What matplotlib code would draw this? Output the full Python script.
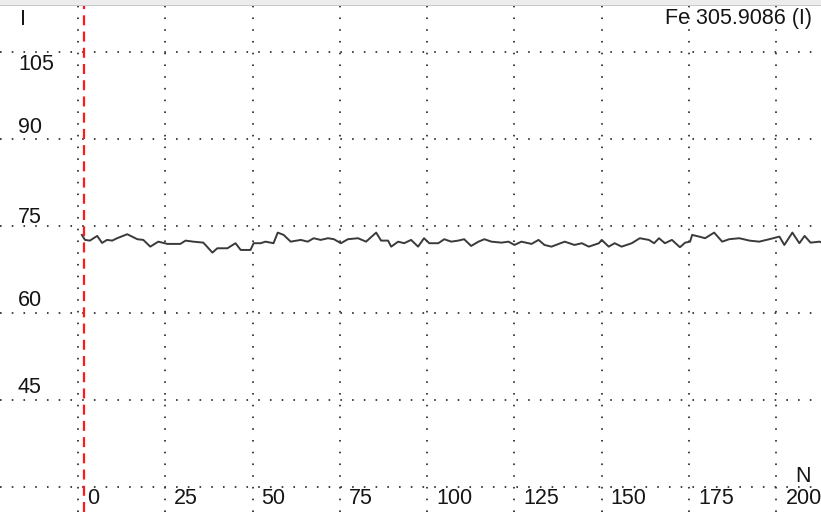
import matplotlib
matplotlib.use("Agg")
import matplotlib.pyplot as plt
from matplotlib.patches import Rectangle

# Fe 305.9086 intensity readings (N, I)
n_values = [1.1, 2.0, 3.4, 5.5, 6.9, 8.3, 9.8, 11.2, 14.1, 17.0, 18.7, 20.7, 23.0, 25.6,
            29.3, 30.8, 33.0, 35.9, 38.5, 39.9, 42.8, 45.1, 46.6, 49.4, 50.3, 52.3, 53.7,
            56.0, 57.2, 58.9, 60.9, 63.8, 65.8, 67.5, 69.5, 71.6, 73.3, 75.3, 77.3, 80.2,
            82.5, 85.4, 86.8, 88.8, 89.7, 91.7, 93.4, 95.4, 97.4, 99.1, 100.6, 103.2, 104.9,
            106.9, 108.9, 110.6, 112.6, 114.7, 116.4, 118.4, 121.3, 123.3, 125.0, 127.0,
            129.9, 131.9, 133.6, 135.6, 139.4, 142.2, 144.3, 146.3, 149.2, 150.0, 152.0,
            153.7, 155.7, 158.6, 160.9, 163.5, 165.0, 166.4, 168.1, 170.1, 172.4, 173.9,
            175.3, 175.9, 177.9, 179.6, 182.2, 184.5, 186.5, 189.4, 192.3, 195.1, 198.0,
            200.9, 202.3, 204.6, 206.6, 208.1, 209.8, 212.4, 213.8]
intensity = [73.45, 72.59, 72.47, 73.28, 72.07, 72.59, 72.47, 72.88, 73.57, 72.71, 72.59,
             71.43, 72.29, 71.90, 71.90, 72.47, 72.29, 72.12, 70.40, 71.15, 71.15, 72.02,
             70.86, 70.86, 72.02, 72.02, 72.29, 72.02, 73.85, 73.45, 72.29, 72.59, 72.29,
             72.88, 72.59, 72.88, 72.71, 72.02, 72.71, 72.88, 72.29, 73.85, 72.47, 72.47,
             71.43, 72.29, 72.02, 72.59, 71.43, 72.88, 72.02, 72.02, 72.71, 72.29, 72.47,
             72.71, 71.55, 72.29, 72.71, 72.29, 72.12, 72.29, 71.72, 72.29, 71.90, 72.59,
             71.72, 71.43, 72.29, 71.72, 72.02, 71.43, 72.02, 72.59, 71.43, 72.02, 71.43,
             72.02, 72.88, 72.59, 72.02, 72.88, 72.02, 72.59, 71.33, 72.12, 72.29, 73.45,
             73.16, 72.88, 73.85, 72.29, 72.71, 72.88, 72.47, 72.29, 72.71, 73.16, 71.72,
             73.85, 72.02, 73.28, 72.12, 72.29, 71.90]

x_ticks = [0, 25, 50, 75, 100, 125, 150, 175, 200]
y_grid = [30, 45, 60, 75, 90, 105]
y_labels = ["105", "90", "75", "60", "45"]
y_label_pos = [102.9, 91.9, 76.4, 62.2, 47.1]
marker_n = 1.7
title = "Fe 305.9086 (I)"

plt.rcParams['font.family'] = ['Liberation Sans', 'DejaVu Sans']

fig = plt.figure(figsize=(8.21, 5.12), dpi=100)
fig.patch.set_facecolor("white")
# grey window edge along the top
fig.patches.append(Rectangle((0, 1 - 5 / 512), 1, 5 / 512, transform=fig.transFigure,
                             facecolor="#ececec", edgecolor="none"))
fig.patches.append(Rectangle((0, 1 - 6 / 512), 1, 1.2 / 512, transform=fig.transFigure,
                             facecolor="#c8c8c8", edgecolor="none"))

ax = fig.add_axes([0, 0, 1, (512 - 6) / 512])
ax.set_xlim(-22.34, 212.8)
ax.set_ylim(25.7, 112.9)
for s in ax.spines.values():
    s.set_visible(False)
ax.set_xticks([])
ax.set_yticks([])

dot = (0, (0.9, 5.6))
for xv in x_ticks:
    ax.axvline(xv, color="#333333", lw=1.3, linestyle=dot, zorder=1)
for yv in y_grid:
    ax.axhline(yv, color="#333333", lw=1.3, linestyle=dot, zorder=1)

ax.axvline(marker_n, color="#ff1a1a", lw=1.6, linestyle=(0, (4.5, 2.8)), zorder=3)

ax.plot(n_values, intensity, color="#3a3a3a", lw=1.4, zorder=2)

fs = 15.5
tc = "#151515"
for xv in x_ticks:
    ax.text(xv + 2.6, 28.0, str(xv), fontsize=fs, color=tc, ha="left", va="center")
for lab, yp in zip(y_labels, y_label_pos):
    ax.text(-17.2, yp, lab, fontsize=fs, color=tc, ha="left", va="center")
ax.text(-16.5, 110.5, "I", fontsize=fs, color=tc, ha="left", va="center")
ax.text(205.3, 31.9, "N", fontsize=fs, color=tc, ha="left", va="center")
ax.text(210.3, 110.7, title, fontsize=fs, color=tc, ha="right", va="center")

fig.savefig("out.png", dpi=100)
